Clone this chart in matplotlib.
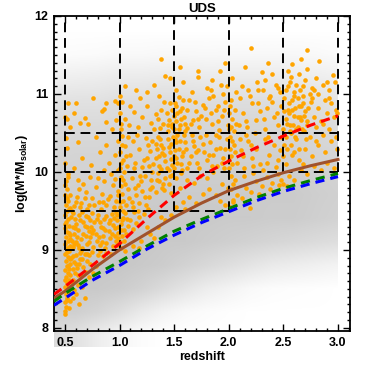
import numpy as np
import matplotlib
matplotlib.use("Agg")
import matplotlib.pyplot as plt
from matplotlib.colors import LinearSegmentedColormap
from matplotlib.patches import Rectangle
from matplotlib.ticker import MultipleLocator, FormatStrFormatter

plt.rcParams['font.family'] = ['Liberation Sans', 'DejaVu Sans']
plt.rcParams['font.weight'] = 'bold'
plt.rcParams['mathtext.fontset'] = 'custom'
plt.rcParams['mathtext.rm'] = 'Liberation Sans:bold'
plt.rcParams['mathtext.bf'] = 'Liberation Sans:bold'
plt.rcParams['mathtext.it'] = 'Liberation Sans:bold'

# --- gray background: full sample density (0 = empty, 1 = densest)
gray_z = [0.4, 0.6, 0.8, 1.0, 1.2, 1.4, 1.6, 1.8, 2.0, 2.2, 2.4, 2.6, 2.8, 3.0]
gray_m = [7.9, 8.2, 8.5, 8.8, 9.1, 9.4, 9.7, 10.0, 10.3, 10.6, 10.9, 11.2, 11.5, 11.8]
gray_density = [
    [0.60, 0.50, 0.30, 0.15, 0.05, 0.00, 0.00, 0.00, 0.00, 0.00, 0.00, 0.00, 0.00, 0.00],
    [0.80, 0.80, 0.70, 0.55, 0.35, 0.20, 0.10, 0.05, 0.02, 0.00, 0.00, 0.00, 0.00, 0.00],
    [0.90, 0.90, 0.90, 0.85, 0.75, 0.60, 0.45, 0.30, 0.20, 0.10, 0.05, 0.03, 0.02, 0.00],
    [0.90, 0.95, 0.95, 0.95, 0.90, 0.85, 0.75, 0.65, 0.55, 0.45, 0.35, 0.30, 0.25, 0.20],
    [0.85, 0.90, 0.90, 0.95, 0.95, 0.90, 0.90, 0.85, 0.80, 0.75, 0.70, 0.65, 0.60, 0.55],
    [0.82, 0.85, 0.85, 0.90, 0.90, 0.90, 0.90, 0.90, 0.88, 0.88, 0.85, 0.85, 0.80, 0.75],
    [0.78, 0.80, 0.80, 0.85, 0.85, 0.87, 0.87, 0.87, 0.87, 0.87, 0.87, 0.87, 0.82, 0.78],
    [0.74, 0.75, 0.75, 0.80, 0.80, 0.82, 0.82, 0.82, 0.82, 0.82, 0.82, 0.82, 0.78, 0.74],
    [0.68, 0.70, 0.70, 0.74, 0.74, 0.78, 0.78, 0.76, 0.76, 0.76, 0.76, 0.76, 0.72, 0.68],
    [0.60, 0.62, 0.62, 0.66, 0.66, 0.70, 0.70, 0.68, 0.68, 0.68, 0.68, 0.68, 0.64, 0.58],
    [0.48, 0.50, 0.50, 0.55, 0.55, 0.58, 0.58, 0.56, 0.56, 0.56, 0.56, 0.56, 0.52, 0.46],
    [0.26, 0.28, 0.30, 0.34, 0.34, 0.36, 0.36, 0.34, 0.34, 0.34, 0.34, 0.34, 0.30, 0.26],
    [0.05, 0.06, 0.07, 0.10, 0.10, 0.12, 0.12, 0.11, 0.12, 0.12, 0.12, 0.12, 0.10, 0.07],
    [0.00, 0.00, 0.00, 0.00, 0.00, 0.00, 0.00, 0.00, 0.00, 0.00, 0.00, 0.00, 0.00, 0.00],
]

# --- orange: selected galaxies (redshift, log mass), grouped by redshift bin
orange_bin1 = [
    (0.50, 8.18), (0.51, 8.27), (0.50, 8.33), (0.52, 8.38), (0.51, 8.44), (0.53, 8.49), (0.50, 8.52),
    (0.52, 8.57), (0.54, 8.61), (0.51, 8.65), (0.53, 8.70), (0.50, 8.74), (0.52, 8.79), (0.55, 8.82),
    (0.51, 8.86), (0.53, 8.91), (0.50, 8.95), (0.54, 8.98), (0.52, 9.03), (0.50, 9.07), (0.53, 9.11),
    (0.51, 9.16), (0.55, 9.19), (0.52, 9.23), (0.50, 9.28), (0.54, 9.31), (0.51, 9.36), (0.53, 9.40),
    (0.50, 9.45), (0.52, 9.50), (0.55, 9.54), (0.51, 9.58), (0.53, 9.63), (0.50, 9.70), (0.52, 9.78),
    (0.51, 9.88), (0.53, 9.97), (0.50, 10.12), (0.52, 10.31), (0.51, 10.43), (0.50, 10.71),
    (0.54, 8.45), (0.55, 8.68), (0.56, 8.90), (0.54, 9.22), (0.56, 9.42), (0.54, 8.25), (0.53, 8.80),
    (0.55, 9.05),
    (0.505, 8.22), (0.515, 8.36), (0.525, 8.54), (0.505, 8.62), (0.535, 8.76), (0.515, 8.97),
    (0.545, 9.14), (0.505, 9.33), (0.535, 9.52), (0.515, 9.66), (0.545, 8.34), (0.565, 8.58),
    (0.575, 8.75), (0.545, 8.88), (0.565, 9.12), (0.575, 9.30), (0.565, 9.50), (0.545, 9.70),
    (0.505, 9.83), (0.525, 9.93),
    (0.57, 8.62), (0.59, 8.71), (0.58, 8.84), (0.61, 8.77), (0.60, 8.93), (0.63, 8.82), (0.64, 8.96),
    (0.66, 8.88), (0.68, 8.95), (0.70, 8.86), (0.72, 8.93), (0.75, 8.97), (0.62, 8.55), (0.58, 8.48),
    (0.65, 8.68), (0.69, 8.72), (0.78, 8.80), (0.85, 8.92), (0.88, 8.96), (0.82, 8.99), (0.57, 8.38),
    (0.60, 8.44), (0.66, 8.52), (0.72, 8.65), (0.76, 8.71), (0.92, 8.95), (0.68, 8.38), (0.63, 8.30),
    (0.60, 8.82), (0.62, 8.68), (0.64, 8.88), (0.67, 8.78), (0.70, 8.95), (0.73, 8.82), (0.57, 8.92),
    (0.65, 8.98), (0.80, 8.93),
    (0.57, 9.04), (0.60, 9.10), (0.63, 9.03), (0.65, 9.14), (0.58, 9.20), (0.62, 9.25), (0.67, 9.21),
    (0.70, 9.07), (0.73, 9.16), (0.76, 9.04), (0.79, 9.12), (0.82, 9.06), (0.85, 9.18), (0.88, 9.09),
    (0.91, 9.15), (0.94, 9.05), (0.97, 9.12), (0.99, 9.22), (0.60, 9.33), (0.64, 9.38), (0.68, 9.31),
    (0.71, 9.42), (0.74, 9.29), (0.77, 9.36), (0.80, 9.45), (0.83, 9.30), (0.86, 9.40), (0.90, 9.34),
    (0.93, 9.46), (0.96, 9.28), (0.98, 9.38), (0.57, 9.47), (0.66, 9.48), (0.72, 9.24), (0.87, 9.25),
    (0.61, 9.16), (0.69, 9.44), (0.95, 9.41), (0.59, 9.40), (0.75, 9.47),
    (0.58, 9.08), (0.62, 9.06), (0.66, 9.02), (0.69, 9.18), (0.72, 9.10), (0.75, 9.22), (0.78, 9.20),
    (0.81, 9.16), (0.84, 9.10), (0.87, 9.02), (0.90, 9.24), (0.93, 9.20), (0.96, 9.18), (0.98, 9.06),
    (0.59, 9.28), (0.63, 9.45), (0.67, 9.36), (0.70, 9.30), (0.73, 9.38), (0.76, 9.26), (0.79, 9.40),
    (0.82, 9.36), (0.85, 9.28), (0.88, 9.44), (0.91, 9.39), (0.94, 9.32), (0.97, 9.48), (0.99, 9.30),
    (0.64, 9.55), (0.77, 9.58), (0.89, 9.65), (0.95, 9.55), (0.60, 9.62), (0.68, 9.66), (0.85, 9.62),
    (0.58, 9.56), (0.61, 9.68), (0.65, 9.60), (0.69, 9.74), (0.72, 9.58), (0.75, 9.66), (0.78, 9.81),
    (0.81, 9.62), (0.84, 9.72), (0.88, 9.57), (0.91, 9.69), (0.94, 9.83), (0.97, 9.63), (0.99, 9.76),
    (0.62, 9.90), (0.67, 9.85), (0.73, 9.94), (0.80, 9.92), (0.86, 9.88), (0.92, 9.97), (0.96, 9.91),
    (0.70, 9.53), (0.83, 9.52), (0.63, 9.78),
    (0.58, 10.05), (0.66, 10.18), (0.74, 10.09), (0.82, 10.26), (0.90, 10.12), (0.96, 10.22),
    (0.62, 10.38), (0.78, 10.45), (0.88, 10.35), (0.55, 10.58), (0.71, 10.62), (0.93, 10.55),
    (0.60, 10.88), (0.58, 10.76), (0.52, 10.68), (0.68, 10.69), (0.64, 10.63), (0.88, 10.88),
    (0.86, 10.81), (0.88, 10.64), (0.96, 10.91), (0.84, 10.78), (0.97, 10.66), (0.76, 10.95),
    (0.99, 10.88), (0.53, 10.88), (0.86, 10.03),
]
orange_bin2 = [
    (0.99, 9.15), (1.01, 9.25), (0.98, 9.45), (1.02, 9.38), (1.00, 9.62), (0.99, 9.70), (1.01, 9.82),
    (1.03, 9.90), (0.99, 10.02), (1.01, 10.12), (1.00, 10.25), (1.02, 10.35), (0.99, 10.40),
    (1.01, 10.62), (1.00, 10.75), (1.03, 9.50), (1.04, 10.00), (1.06, 10.20), (1.04, 9.12), (1.07, 9.40),
    (1.00, 9.10), (1.02, 9.18), (1.04, 9.26), (1.01, 9.33), (1.06, 9.20), (1.08, 9.31), (1.03, 9.41),
    (1.10, 9.38), (1.12, 9.27), (1.15, 9.35), (1.05, 9.47), (1.18, 9.42), (1.22, 9.46), (1.13, 9.48),
    (1.01, 9.02), (1.05, 8.98), (1.12, 9.05), (1.20, 9.12), (1.28, 9.20), (1.35, 9.30), (1.42, 9.38),
    (1.47, 9.45), (1.25, 9.30), (1.38, 9.42), (1.18, 9.02), (1.32, 9.15),
    (1.00, 9.55), (1.03, 9.63), (1.06, 9.58), (1.02, 9.72), (1.09, 9.66), (1.12, 9.55), (1.15, 9.70),
    (1.18, 9.60), (1.21, 9.75), (1.24, 9.57), (1.27, 9.68), (1.30, 9.81), (1.33, 9.74), (1.36, 9.88),
    (1.39, 9.79), (1.42, 9.92), (1.45, 9.84), (1.48, 9.96), (1.05, 9.85), (1.11, 9.92), (1.17, 9.83),
    (1.23, 9.95), (1.29, 9.90), (1.35, 9.98), (1.01, 9.94), (1.08, 9.78), (1.26, 9.52), (1.20, 9.88),
    (1.41, 9.77), (1.47, 9.73), (1.11, 9.62), (1.14, 9.80), (1.19, 9.95), (1.17, 9.50), (1.23, 9.68),
    (1.28, 9.78), (1.34, 9.90), (1.40, 9.85), (1.46, 9.95),
    (1.00, 10.05), (1.03, 10.15), (1.07, 10.08), (1.10, 10.22), (1.14, 10.12), (1.18, 10.30),
    (1.21, 10.06), (1.25, 10.18), (1.28, 10.27), (1.31, 10.10), (1.33, 10.36), (1.36, 10.20),
    (1.38, 10.04), (1.40, 10.31), (1.42, 10.14), (1.44, 10.42), (1.46, 10.25), (1.48, 10.09),
    (1.35, 10.45), (1.30, 10.40), (1.24, 10.44), (1.12, 10.40), (1.05, 10.33), (1.02, 10.46),
    (1.45, 10.02), (1.39, 10.24), (1.47, 10.36), (1.34, 10.29), (1.27, 10.08), (1.16, 10.48),
    (1.22, 10.15), (1.26, 10.35), (1.13, 10.05), (1.08, 10.45), (1.30, 10.00), (1.33, 10.18),
    (1.36, 10.08), (1.38, 10.34), (1.41, 10.22), (1.43, 10.05), (1.45, 10.32), (1.47, 10.16),
    (1.49, 10.45), (1.37, 10.42),
    (1.01, 10.55), (1.05, 10.68), (1.09, 10.60), (1.13, 10.77), (1.17, 10.58), (1.21, 10.70),
    (1.25, 10.85), (1.29, 10.63), (1.33, 10.74), (1.37, 10.56), (1.41, 10.90), (1.45, 10.66),
    (1.48, 10.80), (1.02, 10.90), (1.19, 10.95), (1.36, 10.98), (1.44, 10.52), (1.10, 10.85),
    (1.32, 10.55), (1.35, 10.68), (1.38, 10.80), (1.40, 10.62), (1.43, 10.75), (1.46, 10.88),
    (1.48, 10.58), (1.48, 10.62), (1.44, 10.60),
    (1.00, 10.97), (1.15, 11.05), (1.32, 11.12), (1.46, 11.20), (1.38, 11.45), (1.25, 11.02),
    (1.05, 11.10), (1.42, 11.23),
]
orange_bin3 = [
    (1.52, 9.55), (1.58, 9.62), (1.64, 9.68), (1.70, 9.60), (1.76, 9.72), (1.82, 9.78), (1.88, 9.70),
    (1.94, 9.85), (1.99, 9.80), (1.55, 9.80), (1.62, 9.90), (1.68, 9.86), (1.74, 9.95), (1.80, 9.92),
    (1.86, 10.00), (1.92, 9.63), (1.97, 9.58), (1.60, 9.52), (1.52, 9.92), (1.56, 9.98),
    (1.50, 10.05), (1.52, 10.18), (1.54, 10.30), (1.51, 10.42), (1.56, 10.10), (1.58, 10.25),
    (1.60, 10.38), (1.62, 10.05), (1.65, 10.20), (1.68, 10.33), (1.71, 10.12), (1.74, 10.45),
    (1.77, 10.26), (1.80, 10.15), (1.83, 10.38), (1.86, 10.22), (1.89, 10.08), (1.92, 10.31),
    (1.95, 10.18), (1.98, 10.42), (1.53, 10.48), (1.57, 10.02), (1.66, 10.47), (1.72, 10.28),
    (1.88, 10.48), (1.96, 10.05), (1.51, 10.28), (1.53, 10.12), (1.55, 10.40), (1.57, 10.20),
    (1.59, 10.48), (1.61, 10.30), (1.52, 10.38), (1.50, 10.20),
    (1.64, 10.12), (1.67, 10.40), (1.70, 10.25), (1.73, 10.05), (1.76, 10.36), (1.79, 10.48),
    (1.82, 10.22), (1.85, 10.08), (1.88, 10.30), (1.91, 10.45), (1.94, 10.12), (1.97, 10.30),
    (1.50, 10.55), (1.52, 10.65), (1.53, 10.75), (1.51, 10.88), (1.55, 10.60), (1.57, 10.82),
    (1.59, 10.70), (1.62, 10.56), (1.64, 10.92), (1.67, 10.66), (1.70, 10.78), (1.73, 10.58),
    (1.76, 10.86), (1.79, 10.68), (1.82, 10.95), (1.85, 10.62), (1.88, 10.80), (1.91, 10.54),
    (1.94, 10.72), (1.97, 10.90), (1.54, 10.96), (1.60, 10.52), (1.75, 10.72), (1.86, 10.98),
    (1.50, 10.72), (1.52, 10.85), (1.54, 10.55), (1.56, 10.68), (1.58, 10.92), (1.60, 10.62),
    (1.62, 10.80), (1.55, 10.78), (1.65, 10.62), (1.69, 10.90), (1.72, 10.68), (1.78, 10.82),
    (1.84, 10.75), (1.90, 10.65), (1.96, 10.80), (1.99, 10.60),
    (1.52, 11.05), (1.58, 11.15), (1.66, 11.02), (1.72, 11.22), (1.80, 11.08), (1.92, 11.30),
    (1.55, 11.35), (1.85, 11.18), (1.98, 11.10), (1.72, 11.30), (1.97, 11.40), (1.84, 11.05),
    (1.90, 10.85), (1.95, 11.00), (1.93, 11.12),
]
orange_bin4 = [
    (2.01, 9.55), (2.04, 9.62), (2.08, 9.70), (2.02, 9.78), (2.12, 9.66), (2.16, 9.80), (2.20, 9.74),
    (2.25, 9.88), (2.30, 9.82), (2.35, 9.93), (2.40, 9.86), (2.45, 9.97), (2.06, 9.90), (2.14, 9.95),
    (2.22, 9.98), (2.38, 9.78), (2.48, 9.90), (2.28, 9.72), (2.04, 9.64), (2.19, 9.54),
    (2.04, 9.85), (2.02, 9.95),
    (2.00, 10.05), (2.02, 10.20), (2.05, 10.35), (2.01, 10.45), (2.08, 10.12), (2.11, 10.28),
    (2.14, 10.05), (2.18, 10.40), (2.21, 10.18), (2.25, 10.30), (2.29, 10.10), (2.33, 10.42),
    (2.37, 10.22), (2.41, 10.35), (2.45, 10.15), (2.48, 10.45), (2.03, 10.10), (2.16, 10.48),
    (2.31, 10.02), (2.43, 10.06), (2.00, 10.15), (2.01, 10.30), (2.03, 10.40), (2.06, 10.25),
    (2.10, 10.42), (2.13, 10.20), (2.20, 10.35), (2.22, 10.08), (2.35, 10.12), (2.47, 10.28),
    (2.00, 10.55), (2.03, 10.68), (2.06, 10.80), (2.02, 10.92), (2.09, 10.60), (2.13, 10.75),
    (2.17, 10.58), (2.21, 10.88), (2.25, 10.66), (2.29, 10.78), (2.33, 10.55), (2.37, 10.95),
    (2.41, 10.70), (2.45, 10.60), (2.48, 10.84), (2.05, 10.52), (2.19, 10.98), (2.35, 10.82),
    (2.02, 10.58), (2.00, 10.75), (2.01, 10.85), (2.07, 10.62), (2.16, 10.65), (2.24, 10.50),
    (2.27, 10.88), (2.32, 10.68), (2.36, 10.45), (2.40, 10.90), (2.44, 10.75),
    (2.07, 11.02), (2.12, 11.10), (2.18, 11.05), (2.10, 10.95),
    (2.20, 11.59), (2.03, 11.20), (2.26, 11.15), (2.40, 11.25), (2.15, 11.35), (2.31, 11.05),
    (2.45, 11.08), (2.27, 11.05), (2.33, 11.18), (2.38, 10.98), (2.43, 11.12), (2.47, 11.02),
    (2.30, 11.28), (2.36, 11.40),
]
orange_bin5 = [
    (2.50, 9.85), (2.55, 9.95), (2.60, 9.90), (2.66, 10.02), (2.72, 9.97), (2.78, 10.08), (2.84, 10.02),
    (2.90, 10.12), (2.96, 10.05), (2.52, 10.10), (2.58, 10.22), (2.64, 10.15), (2.70, 10.30),
    (2.76, 10.20), (2.82, 10.35), (2.88, 10.25), (2.94, 10.40), (2.99, 10.30), (2.51, 10.35),
    (2.62, 10.42), (2.74, 10.45), (2.86, 10.48), (2.53, 9.82), (2.68, 10.10), (2.46, 9.83),
    (2.50, 10.20), (2.52, 10.45), (2.57, 10.35), (2.61, 10.45), (2.64, 10.30), (2.71, 10.42),
    (2.53, 10.30), (2.60, 10.25), (2.80, 10.40), (2.98, 10.45),
    (2.50, 10.55), (2.52, 10.68), (2.54, 10.80), (2.56, 10.60), (2.58, 10.92), (2.60, 10.72),
    (2.62, 10.55), (2.64, 10.85), (2.66, 10.66), (2.68, 10.98), (2.70, 10.78), (2.72, 10.60),
    (2.75, 10.90), (2.78, 10.70), (2.82, 10.82), (2.86, 10.62), (2.90, 10.75), (2.94, 10.88),
    (2.98, 10.80), (2.51, 10.95), (2.57, 10.50), (2.63, 10.95), (2.69, 10.52), (2.80, 10.58),
    (2.92, 10.95), (2.55, 10.75), (2.61, 10.82), (2.65, 10.70), (2.99, 10.75),
    (2.53, 10.62), (2.55, 10.88), (2.59, 10.60), (2.60, 10.98), (2.63, 10.70), (2.66, 10.85),
    (2.67, 10.55), (2.69, 10.72), (2.73, 10.82), (2.74, 11.00), (2.51, 10.78), (2.56, 10.52),
    (2.58, 10.80), (2.68, 10.88), (2.72, 10.65), (2.76, 10.95), (2.63, 10.58), (2.84, 10.65),
    (2.88, 10.92), (2.92, 10.55), (2.96, 10.70),
    (2.52, 11.05), (2.56, 11.15), (2.60, 11.02), (2.64, 11.25), (2.68, 11.10), (2.72, 11.32),
    (2.76, 11.08), (2.80, 11.20), (2.86, 11.12), (2.92, 11.05), (2.72, 11.57), (2.58, 11.38),
    (2.83, 11.42), (2.97, 11.15), (2.66, 11.45), (2.54, 11.30), (2.78, 11.05), (2.95, 11.24),
    (2.65, 11.05), (2.70, 11.18), (2.54, 11.10), (2.62, 11.12), (2.57, 11.22), (2.82, 11.00),
    (2.90, 11.15),
]

# --- model curves
curve_z = [0.4, 0.5, 0.75, 1.0, 1.25, 1.5, 1.75, 2.0, 2.25, 2.5, 2.75, 3.0]
red_m = [8.43, 8.53, 8.80, 9.08, 9.40, 9.70, 9.95, 10.14, 10.31, 10.46, 10.60, 10.72]
brown_m = [8.38, 8.47, 8.75, 9.00, 9.21, 9.42, 9.60, 9.76, 9.88, 9.99, 10.08, 10.16]
green_m = [8.34, 8.44, 8.66, 8.85, 9.05, 9.24, 9.39, 9.53, 9.67, 9.79, 9.89, 9.98]
blue_m = [8.29, 8.38, 8.61, 8.80, 9.01, 9.19, 9.35, 9.49, 9.63, 9.75, 9.85, 9.94]

# --- bin boundaries
bin_z = [0.5, 1.0, 1.5, 2.0, 2.5, 3.0]
bin_mlow = [9.0, 9.0, 9.5, 9.5, 10.0, 10.0]
h_levels = [9.0, 9.5, 10.0, 10.5]
h_zmax = [1.0, 2.0, 3.0, 3.0]

fig = plt.figure(figsize=(3.66, 3.66), dpi=100)
ax = fig.add_axes([54 / 366, 35 / 366, 296 / 366, 315 / 366])

dz = gray_z[1] - gray_z[0]
dm = gray_m[1] - gray_m[0]
gray_cmap = LinearSegmentedColormap.from_list("g", ["#ffffff", "#c4c4c4"])
im = ax.imshow(np.array(gray_density), origin="lower", aspect="auto",
               extent=[gray_z[0] - dz / 2, gray_z[-1] + dz / 2, gray_m[0] - dm / 2, gray_m[-1] + dm / 2],
               cmap=gray_cmap, vmin=0, vmax=1, interpolation="bilinear", zorder=1)
im.set_clip_path(Rectangle((gray_z[0], 7.5), gray_z[-1] - gray_z[0], 5.0, transform=ax.transData))

orange = orange_bin1 + orange_bin2 + orange_bin3 + orange_bin4 + orange_bin5
oz = [p[0] for p in orange]
om = [p[1] for p in orange]
ax.scatter(oz, om, s=11, color="#FFA500", linewidths=0, zorder=3)

for z, lo in zip(bin_z, bin_mlow):
    ax.plot([z, z], [lo, 12.0], color="k", lw=1.4, dashes=(5, 3), zorder=4)
for m, zmax in zip(h_levels, h_zmax):
    ax.plot([0.5, zmax], [m, m], color="k", lw=1.4, dashes=(5, 3), zorder=4)

ax.plot(curve_z, red_m, color="#FF0000", lw=2.2, dashes=(3, 2), zorder=5)
ax.plot(curve_z, brown_m, color="#A0522D", lw=2.2, zorder=5)
ax.plot(curve_z, green_m, color="#008000", lw=2.2, dashes=(3, 2), zorder=5)
ax.plot(curve_z, blue_m, color="#0000FF", lw=2.2, dashes=(3, 2), zorder=5)

ax.set_xlim(0.4, 3.11)
ax.set_ylim(7.96, 12.0)
ax.xaxis.set_major_locator(MultipleLocator(0.5))
ax.xaxis.set_minor_locator(MultipleLocator(0.1))
ax.yaxis.set_major_locator(MultipleLocator(1))
ax.yaxis.set_minor_locator(MultipleLocator(0.1))
ax.xaxis.set_major_formatter(FormatStrFormatter("%.1f"))
ax.yaxis.set_major_formatter(FormatStrFormatter("%d"))
ax.tick_params(which="both", direction="in", top=True, right=True, width=1.0, labelsize=9)
ax.tick_params(which="major", length=5, pad=4)
ax.tick_params(which="minor", length=2.5)
for s in ax.spines.values():
    s.set_linewidth(1.3)

ax.set_title("UDS", fontsize=9.5, fontweight="bold", pad=3)
ax.set_xlabel("redshift", fontsize=9, fontweight="bold", labelpad=2)
ax.set_ylabel(r"log(M*/M$_{\mathrm{solar}}$)", fontsize=9, fontweight="bold")
ax.yaxis.set_label_coords(-0.08, 0.5)

fig.savefig("out.png", dpi=100)
